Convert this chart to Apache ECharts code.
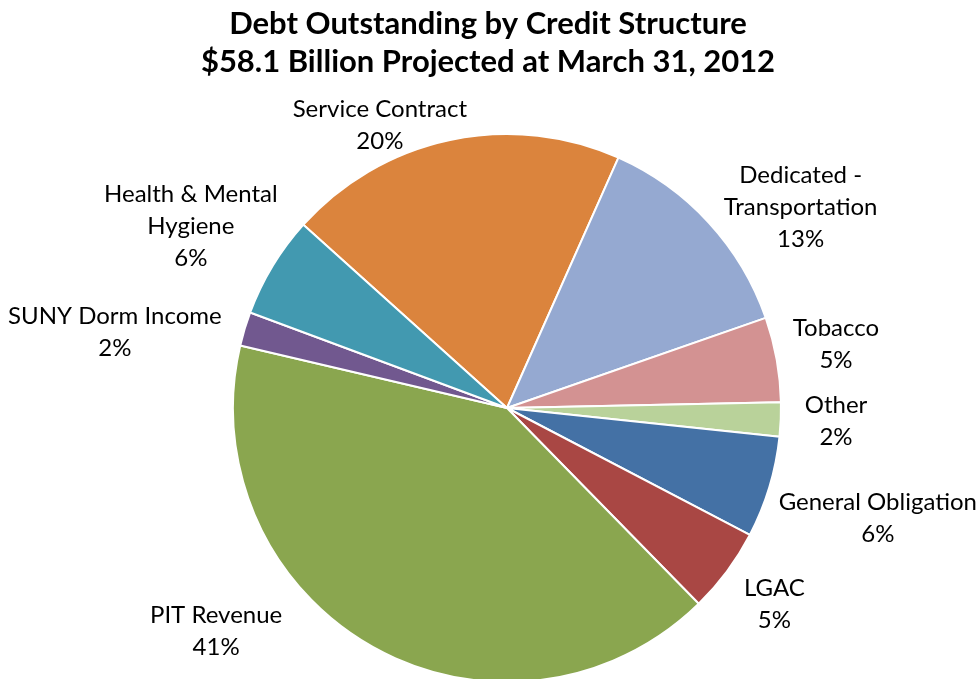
<!DOCTYPE html>
<html>
<head>
<meta charset="utf-8">
<script src="https://cdn.jsdelivr.net/npm/echarts@6/dist/echarts.min.js"></script>
<style>
  html, body { margin: 0; padding: 0; background: #fff; }
  #chart { width: 976px; height: 679px; }
</style>
</head>
<body>
<div id="chart"></div>
<script>
// Credit structures, in clockwise order starting with Service Contract
const categories = [
  'Service Contract',
  'Dedicated -\nTransportation',
  'Tobacco',
  'Other',
  'General Obligation',
  'LGAC',
  'PIT Revenue',
  'SUNY Dorm Income',
  'Health & Mental\nHygiene'
];
// Share of outstanding debt, percent
const shares = [20, 13, 5, 2, 6, 5, 41, 2, 6];
const colors = ['#DB843D', '#95A9D1', '#D39292', '#B9D29A', '#4471A5',
                '#A94744', '#8AA64F', '#71588F', '#4299B0'];
// Fine adjustment of each label's placement [dx, dy]
const labelNudge = [[-50, 26], [28, 24], [7, -8], [14, 0], [4, 19],
                    [15, 8], [-119, -52], [-18, 16], [1, -10]];

const titleLines = ['Debt Outstanding by Credit Structure',
                    '$58.1 Billion Projected at March 31, 2012'];

const CX = 507, CY = 408, R = 274;
const START = 138; // degrees, counter-clockwise from 3 o'clock
const GAP = 10;
const LABEL_FONT = 'Lato';
const LABEL_SIZE = 24;

const total = shares.reduce((a, b) => a + b, 0);
const midAngles = [];
let acc = 0;
shares.forEach(v => {
  const span = v / total * 360;
  midAngles.push((START - acc - span / 2) * Math.PI / 180);
  acc += span;
});

// width of the widest line of each label
const measureCtx = document.createElement('canvas').getContext('2d');
measureCtx.font = LABEL_SIZE + 'px ' + LABEL_FONT;
const labelWidths = categories.map(c =>
  Math.max(...c.split('\n').map(s => measureCtx.measureText(s).width)));

const chart = echarts.init(document.getElementById('chart'));
chart.setOption({
  animation: false,
  title: {
    text: titleLines.join('\n'),
    left: 'center',
    top: 0,
    textStyle: {
      fontFamily: 'Lato',
      fontWeight: 'bold',
      fontSize: 31,
      lineHeight: 38,
      color: '#000'
    }
  },
  series: [{
    type: 'pie',
    center: [CX, CY],
    radius: [0, R],
    startAngle: START,
    clockwise: true,
    color: colors,
    itemStyle: { borderColor: '#fff', borderWidth: 2 },
    label: {
      show: true,
      position: 'outside',
      formatter: p => p.name + '\n' + Math.round(p.percent) + '%',
      fontFamily: LABEL_FONT,
      fontSize: LABEL_SIZE,
      lineHeight: 32,
      color: '#000',
      align: 'center',
      overflow: 'none',
      width: 260
    },
    labelLine: { show: false },
    labelLayout: function (p) {
      const i = p.dataIndex;
      const a = midAngles[i];
      const dx = Math.cos(a), dy = -Math.sin(a);
      const w = labelWidths[i], h = p.labelRect.height;
      const d = R + GAP;
      const n = labelNudge[i];
      return {
        x: CX + dx * d + dx * w / 2 + n[0],
        y: CY + dy * d + dy * h / 2 + n[1],
        align: 'center',
        verticalAlign: 'middle'
      };
    },
    data: categories.map((c, i) => ({ name: c, value: shares[i] }))
  }]
});
</script>
</body>
</html>
